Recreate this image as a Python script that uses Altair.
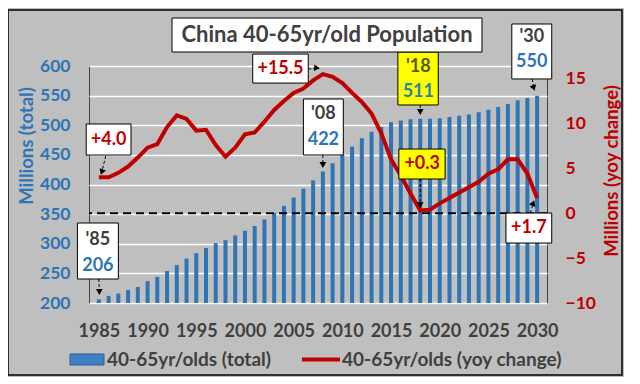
import altair as alt
import pandas as pd

# ---------------- data ----------------
years = list(range(1985, 2031))
total = [206, 212, 216, 222, 227, 237, 244, 254, 264, 275,
         284, 293, 301, 306, 314, 322, 330, 341, 352, 364,
         378, 393, 407, 422, 436, 450, 464, 478, 489, 497,
         505, 508, 510, 511, 511, 512, 514, 516, 518, 522,
         526, 531, 536, 542, 546, 550]
yoy = [4.0, 4.0, 4.5, 5.2, 6.2, 7.3, 7.7, 9.6, 10.9, 10.5,
       9.2, 9.3, 7.6, 6.3, 7.3, 8.8, 9.0, 10.2, 11.5, 12.5,
       13.4, 13.9, 14.8, 15.5, 15.2, 14.5, 13.4, 12.4, 11.1, 8.9,
       6.0, 4.2, 2.2, 0.3, 0.4, 1.1, 1.7, 2.3, 2.9, 3.5,
       4.4, 4.9, 6.0, 6.0, 4.4, 1.7]

# bar call-outs (left axis units)
bar_year_lbl = ["'85", "'08", "'18", "'30"]
bar_val_lbl = ["206", "422", "511", "550"]
bar_box_x1 = [1982.8, 2006.0, 2015.7, 2027.4]
bar_box_x2 = [1987.0, 2010.1, 2019.85, 2031.5]
bar_box_y1 = [335.0, 544.3, 623.6, 670.9]
bar_box_y2 = [240.5, 449.8, 534.2, 578.1]
bar_txt_x = [1984.9, 2008.05, 2017.8, 2029.45]
bar_txt_y1 = [306.3, 519.8, 598.3, 648.5]
bar_txt_y2 = [262.4, 475.1, 556.1, 606.3]
bar_box_fill = ["white", "white", "#ffff00", "white"]
bar_lbl_col = ["#404040", "#404040", "#5a5a1e", "#404040"]
bar_val_col = ["#2e75b6", "#2e75b6", "#2a86a6", "#2e75b6"]
bar_arr_x1 = [1985.0, 2008.0, 2018.0, 2029.5]
bar_arr_y1 = [240.5, 449.8, 534.2, 578.1]
bar_arr_x2 = [1985.05, 2008.0, 2018.0, 2029.65]
bar_arr_y2 = [218.6, 432.9, 522.4, 562.9]
bar_arr_ang = [180, 180, 180, 162]

# line call-outs (right axis units)
line_lbl = ["+4.0", "+15.5", "+0.3", "+1.7"]
line_box_x1 = [1983.7, 2000.8, 2015.8, 2026.8]
line_box_x2 = [1988.3, 2006.5, 2020.55, 2031.5]
line_box_y1 = [9.94, 17.73, 7.15, 0.02]
line_box_y2 = [6.48, 14.5, 3.81, -3.32]
line_txt_x = [1986.0, 2003.65, 2018.2, 2029.15]
line_txt_y = [8.2, 16.1, 5.48, -1.65]
line_box_fill = ["white", "white", "#ffff00", "white"]
line_arr_x1 = [1985.7, 2006.5, 2018.0, 2029.3]
line_arr_y1 = [6.37, 16.06, 3.81, 0.02]
line_arr_x2 = [1985.3, 2007.4, 2018.0, 2029.6]
line_arr_y2 = [4.59, 16.17, 0.91, 1.14]
line_arr_ang = [200, 96, 180, 21]

FONT = "Lato"
BLUE = "#2e75b6"
RED = "#c00000"
DARK = "#404040"
BG = "#bfbfbf"

df = pd.DataFrame({"year": years, "total": total, "yoy": yoy})
bar_ann = pd.DataFrame({
    "x1": bar_box_x1, "x2": bar_box_x2, "y1": bar_box_y1, "y2": bar_box_y2,
    "tx": bar_txt_x, "ty1": bar_txt_y1, "ty2": bar_txt_y2,
    "lbl": bar_year_lbl, "val": bar_val_lbl, "fill": bar_box_fill,
    "lc": bar_lbl_col, "vc": bar_val_col,
    "ax1": bar_arr_x1, "ay1": bar_arr_y1, "ax2": bar_arr_x2, "ay2": bar_arr_y2,
    "ang": bar_arr_ang,
})
line_ann = pd.DataFrame({
    "x1": line_box_x1, "x2": line_box_x2, "y1": line_box_y1, "y2": line_box_y2,
    "tx": line_txt_x, "ty": line_txt_y, "lbl": line_lbl, "fill": line_box_fill,
    "ax1": line_arr_x1, "ay1": line_arr_y1, "ax2": line_arr_x2, "ay2": line_arr_y2,
    "ang": line_arr_ang,
})
dummy = pd.DataFrame({"z": [0]})

xs = alt.Scale(domain=[1984.5, 2030.5], nice=False, zero=False)
yls = alt.Scale(domain=[200, 600], nice=False, zero=False)
yrs = alt.Scale(domain=[-10, 16.4], nice=False, zero=False)

x_axis = alt.Axis(values=list(range(1985, 2031, 5)), format="d", title=None,
                  labelFont=FONT, labelFontSize=18, labelFontWeight="bold",
                  labelColor=DARK, labelPadding=19, ticks=False, domain=False,
                  grid=False)
yl_axis = alt.Axis(values=list(range(200, 601, 50)), title="Millions (total)",
                   labelFont=FONT, labelFontSize=17.5, labelFontWeight="bold",
                   labelColor=BLUE, labelPadding=19, ticks=False, domain=False,
                   grid=True, gridColor="white", gridWidth=1.5,
                   titleFont=FONT, titleFontSize=18.5, titleFontWeight="bold",
                   titleColor=BLUE, titleX=-63, titleY=79.5, titleBaseline="middle")
yr_axis = alt.Axis(values=[-10, -5, 0, 5, 10, 15], title="Millions (yoy change)",
                   orient="right",
                   labelFont=FONT, labelFontSize=17.5, labelFontWeight="bold",
                   labelColor=RED, labelPadding=18, labelAlign="left",
                   ticks=False, domain=False, grid=False,
                   titleFont=FONT, titleFontSize=18.5, titleFontWeight="bold",
                   titleColor=RED, titleAngle=270, titleX=64, titleY=104.5,
                   titleBaseline="middle")


def X(f):
    return alt.X(f, scale=xs, axis=x_axis)


def YL(f):
    return alt.Y(f, scale=yls, axis=yl_axis)


def YR(f):
    return alt.Y(f, scale=yrs, axis=yr_axis)


ANN = 18

# ----- group A : bars (left axis) -----
bars = alt.Chart(df).mark_bar(color=BLUE, size=4).encode(
    x=X("year:Q"), y=YL("total:Q"), y2=alt.Y2Datum(200),
)
bbox = alt.Chart(bar_ann).mark_rect(stroke="black", strokeWidth=1).encode(
    x=X("x1:Q"), x2="x2:Q", y=YL("y1:Q"), y2="y2:Q",
    fill=alt.Fill("fill:N", scale=None),
)
btxt1 = alt.Chart(bar_ann).mark_text(font=FONT, fontSize=ANN, fontWeight="bold",
                                     baseline="middle").encode(
    x=X("tx:Q"), y=YL("ty1:Q"), text="lbl:N", color=alt.Color("lc:N", scale=None),
)
btxt2 = alt.Chart(bar_ann).mark_text(font=FONT, fontSize=ANN, fontWeight="bold",
                                     baseline="middle").encode(
    x=X("tx:Q"), y=YL("ty2:Q"), text="val:N", color=alt.Color("vc:N", scale=None),
)
barr = alt.Chart(bar_ann).mark_rule(color="black", strokeWidth=1, strokeDash=[3, 2]).encode(
    x=X("ax1:Q"), x2="ax2:Q", y=YL("ay1:Q"), y2="ay2:Q",
)
bhead = alt.Chart(bar_ann).mark_point(shape="triangle-up", filled=True, size=45,
                                      color="black", opacity=1).encode(
    x=X("ax2:Q"), y=YL("ay2:Q"), angle=alt.Angle("ang:Q", scale=None),
)
group_a = alt.layer(bars, barr, bhead, bbox, btxt1, btxt2)

# ----- group B : yoy line (right axis) -----
zero = alt.Chart(dummy).mark_rule(color="black", strokeWidth=2, strokeDash=[8, 5]).encode(
    y=YR("z:Q"),
)
line = alt.Chart(df).mark_line(color=RED, strokeWidth=4).encode(
    x=X("year:Q"), y=YR("yoy:Q"),
)
lbox = alt.Chart(line_ann).mark_rect(stroke="black", strokeWidth=1).encode(
    x=X("x1:Q"), x2="x2:Q", y=YR("y1:Q"), y2="y2:Q",
    fill=alt.Fill("fill:N", scale=None),
)
ltxt = alt.Chart(line_ann).mark_text(font=FONT, fontSize=ANN, fontWeight="bold",
                                     baseline="middle", color=RED).encode(
    x=X("tx:Q"), y=YR("ty:Q"), text="lbl:N",
)
larr = alt.Chart(line_ann).mark_rule(color="black", strokeWidth=1, strokeDash=[3, 2]).encode(
    x=X("ax1:Q"), x2="ax2:Q", y=YR("ay1:Q"), y2="ay2:Q",
)
lhead = alt.Chart(line_ann).mark_point(shape="triangle-up", filled=True, size=45,
                                       color="black", opacity=1).encode(
    x=X("ax2:Q"), y=YR("ay2:Q"), angle=alt.Angle("ang:Q", scale=None),
)
group_b = alt.layer(zero, line, larr, lhead, lbox, ltxt)

# ----- decorations: frame, title box, legend -----
frame = alt.Chart(dummy).mark_rect(fillOpacity=0, stroke="black", strokeWidth=1.5).encode(
    x=alt.value(-81), x2=alt.value(533), y=alt.value(-56), y2=alt.value(309))
tbox = alt.Chart(dummy).mark_rect(fill="white", stroke="black", strokeWidth=1).encode(
    x=alt.value(83), x2=alt.value(393), y=alt.value(-48), y2=alt.value(-14))
ttxt = alt.Chart(dummy).mark_text(text="China 40-65yr/old Population", font=FONT,
                                  fontSize=22, fontWeight="bold", color=DARK,
                                  baseline="middle").encode(
    x=alt.value(238), y=alt.value(-31))
sw1 = alt.Chart(dummy).mark_rect(fill="#3f7fc4", stroke="#2d5f94", strokeWidth=1).encode(
    x=alt.value(-19), x2=alt.value(15), y=alt.value(288), y2=alt.value(299))
lg1 = alt.Chart(dummy).mark_text(text="40-65yr/olds (total)", font=FONT, fontSize=19,
                                 fontWeight="bold", color=DARK, align="left",
                                 baseline="middle").encode(
    x=alt.value(18), y=alt.value(293.5))
sw2 = alt.Chart(dummy).mark_rule(color=RED, strokeWidth=4).encode(
    x=alt.value(213), x2=alt.value(251), y=alt.value(293.5))
lg2 = alt.Chart(dummy).mark_text(text="40-65yr/olds (yoy change)", font=FONT, fontSize=19,
                                 fontWeight="bold", color=DARK, align="left",
                                 baseline="middle").encode(
    x=alt.value(253), y=alt.value(293.5))
deco = alt.layer(frame, tbox, ttxt, sw1, lg1, sw2, lg2)

chart = alt.layer(group_a, group_b, deco).resolve_scale(y="independent").properties(
    width=458, height=237,
    autosize=alt.AutoSizeParams(type="none"),
    padding={"left": 81, "top": 58, "right": 77, "bottom": 74},
    background=BG,
).configure_view(stroke="#404040", strokeWidth=1)

chart.save("out.html", embed_options={"renderer": "svg", "actions": False})
